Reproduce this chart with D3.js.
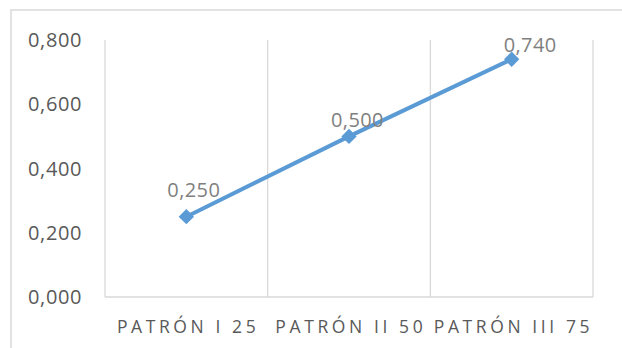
<!DOCTYPE html>
<html><head><meta charset="utf-8">
<script src="https://cdn.jsdelivr.net/npm/d3@7"></script>
<style>body{margin:0;background:#fff}svg{display:block}</style>
</head><body><svg id="c" width="622" height="348"></svg>
<script>
const categories = ["PATRÓN I 25", "PATRÓN II 50", "PATRÓN III 75"];
const values = [0.250, 0.500, 0.740];
const yTicks = [0, 0.2, 0.4, 0.6, 0.8];

const svg = d3.select("#c");
const m = {l:105, r:593, t:40, b:297};
const fmt = v => d3.format(".3f")(v).replace(".", ",");

// chart border
svg.append("rect").attr("x",11).attr("y",10).attr("width",700).attr("height",400)
  .attr("fill","#fff").attr("stroke","#d9d9d9").attr("stroke-width",1.5);

const x = d3.scaleBand().domain(categories).range([m.l, m.r]).padding(0);
const y = d3.scaleLinear().domain([0, 0.8]).range([m.b, m.t]);

// vertical gridlines at category boundaries
const edges = categories.map(c => x(c)).concat([x(categories[categories.length-1]) + x.bandwidth()]);
svg.append("g").selectAll("line").data(edges).join("line")
  .attr("x1", d => d).attr("x2", d => d).attr("y1", m.t).attr("y2", m.b)
  .attr("stroke", "#d9d9d9").attr("stroke-width", 1.3);
svg.append("line").attr("x1", m.l).attr("x2", m.r).attr("y1", m.b).attr("y2", m.b)
  .attr("stroke", "#d9d9d9").attr("stroke-width", 1.3);

// y tick labels
svg.append("g").selectAll("text").data(yTicks).join("text")
  .attr("x", 82).attr("y", d => y(d) + 7)
  .attr("text-anchor", "end")
  .style("font-family", "'Open Sans'")
  .style("font-size", "20px")
  .style("letter-spacing", "0.6px")
  .attr("fill", "#595959")
  .text(d => fmt(d));

// x labels
const ls = 3.6;
svg.append("g").selectAll("text").data(categories).join("text")
  .attr("x", d => x(d) + x.bandwidth()/2 + ls/2).attr("y", 333)
  .attr("text-anchor", "middle")
  .style("font-family", "'Open Sans'")
  .style("font-size", "17.5px")
  .style("letter-spacing", ls + "px")
  .attr("fill", "#595959")
  .text(d => d);

const cx = i => x(categories[i]) + x.bandwidth()/2;
const line = d3.line().x((d,i) => cx(i)).y(d => y(d));
svg.append("path").datum(values).attr("d", line)
  .attr("fill","none").attr("stroke","#5b9bd5").attr("stroke-width",4)
  .attr("stroke-linejoin","round");

svg.append("g").selectAll("path").data(values).join("path")
  .attr("d", d3.symbol().type(d3.symbolDiamond2).size(150)())
  .attr("transform", (d,i) => `translate(${cx(i)},${y(d)})`)
  .attr("fill","#5b9bd5");

// data labels (manually placed offsets as in the source)
const lblDx = [-19, -18, -8], lblDy = [-20, -9, -7];
svg.append("g").selectAll("text").data(values).join("text")
  .attr("x", (d,i) => cx(i) + lblDx[i]).attr("y", (d,i) => y(d) + lblDy[i])
  .style("font-family", "'Open Sans'")
  .style("font-size", "20px")
  .style("letter-spacing", "0.4px")
  .attr("fill", "#7f7f7f")
  .text(d => fmt(d));
</script></body></html>
